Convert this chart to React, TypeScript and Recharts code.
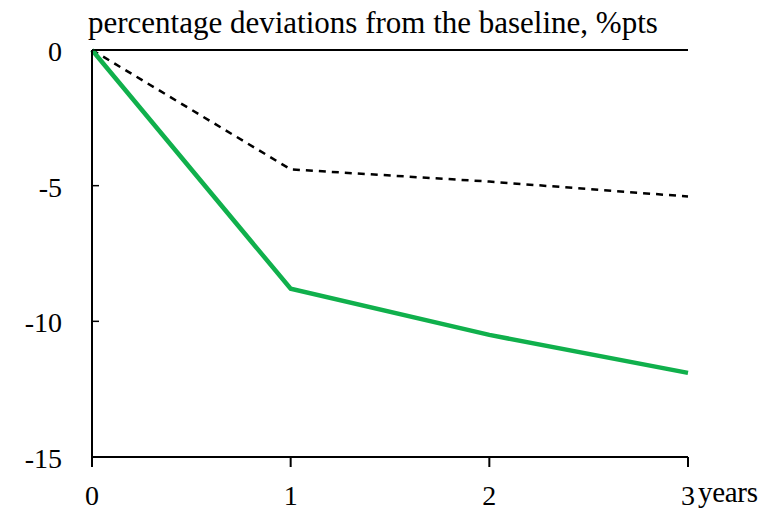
import React from 'react';
import { LineChart, Line, XAxis, YAxis, ReferenceLine } from 'recharts';

const years = [0, 1, 2, 3];
const greenSeries = [0, -8.8, -10.5, -11.9];
const dashedSeries = [0, -4.4, -4.85, -5.4];
const yTicks = [0, -5, -10, -15];
const subtitle = 'percentage deviations from the baseline, %pts';
const xUnit = 'years';

const data = years.map((y, i) => ({ year: y, green: greenSeries[i], dashed: dashedSeries[i] }));

const FONT = '"Liberation Serif", "Times New Roman", serif';

const XTick = (props: any) => {
  const { x, y, payload } = props;
  const isLast = payload.value === years[years.length - 1];
  return (
    <g>
      <text x={x} y={y} dy={36} textAnchor="middle" fontFamily={FONT} fontSize={28} fill="#000">
        {payload.value}
      </text>
      {isLast && (
        <text x={x + 10} y={y} dy={33} textAnchor="start" fontFamily={FONT} fontSize={29} fill="#000" letterSpacing={-0.3}>
          {xUnit}
        </text>
      )}
    </g>
  );
};

const YTick = (props: any) => {
  const { x, y, payload } = props;
  return (
    <text x={x} y={y} dy={11} textAnchor="end" fontFamily={FONT} fontSize={28} fill="#000">
      {payload.value}
    </text>
  );
};

export default function App() {
  return (
    <div style={{ position: 'absolute', left: 0, top: 0, width: 776, height: 510, background: '#fff' }}>
      <div
        style={{
          position: 'absolute',
          left: 88,
          top: 5,
          fontFamily: FONT,
          fontSize: 31,
          color: '#000',
          whiteSpace: 'nowrap',
          lineHeight: '36px',
        }}
      >
        {subtitle}
      </div>
      <LineChart width={776} height={510} data={data} margin={{ top: 50, right: 88, bottom: 8, left: 0 }}>
        <XAxis
          dataKey="year"
          type="number"
          domain={[0, 3]}
          ticks={years}
          axisLine={{ stroke: '#000', strokeWidth: 2 }}
          tickLine={{ stroke: '#000', strokeWidth: 2 }}
          tickSize={10}
          height={45}
          tick={<XTick />}
          interval={0}
        />
        <YAxis
          type="number"
          domain={[-15, 0]}
          ticks={yTicks}
          width={92}
          axisLine={{ stroke: '#000', strokeWidth: 2 }}
          tickLine={{ stroke: '#000', strokeWidth: 1.5 }}
          tickSize={-7}
          tickMargin={37}
          tick={<YTick />}
          interval={0}
        />
        <ReferenceLine y={0} stroke="#000" strokeWidth={2} />
        <Line
          dataKey="dashed"
          stroke="#000"
          strokeWidth={2.5}
          strokeDasharray="7 6"
          dot={false}
          isAnimationActive={false}
        />
        <Line dataKey="green" stroke="#10b04c" strokeWidth={4.5} dot={false} isAnimationActive={false} />
      </LineChart>
    </div>
  );
}
